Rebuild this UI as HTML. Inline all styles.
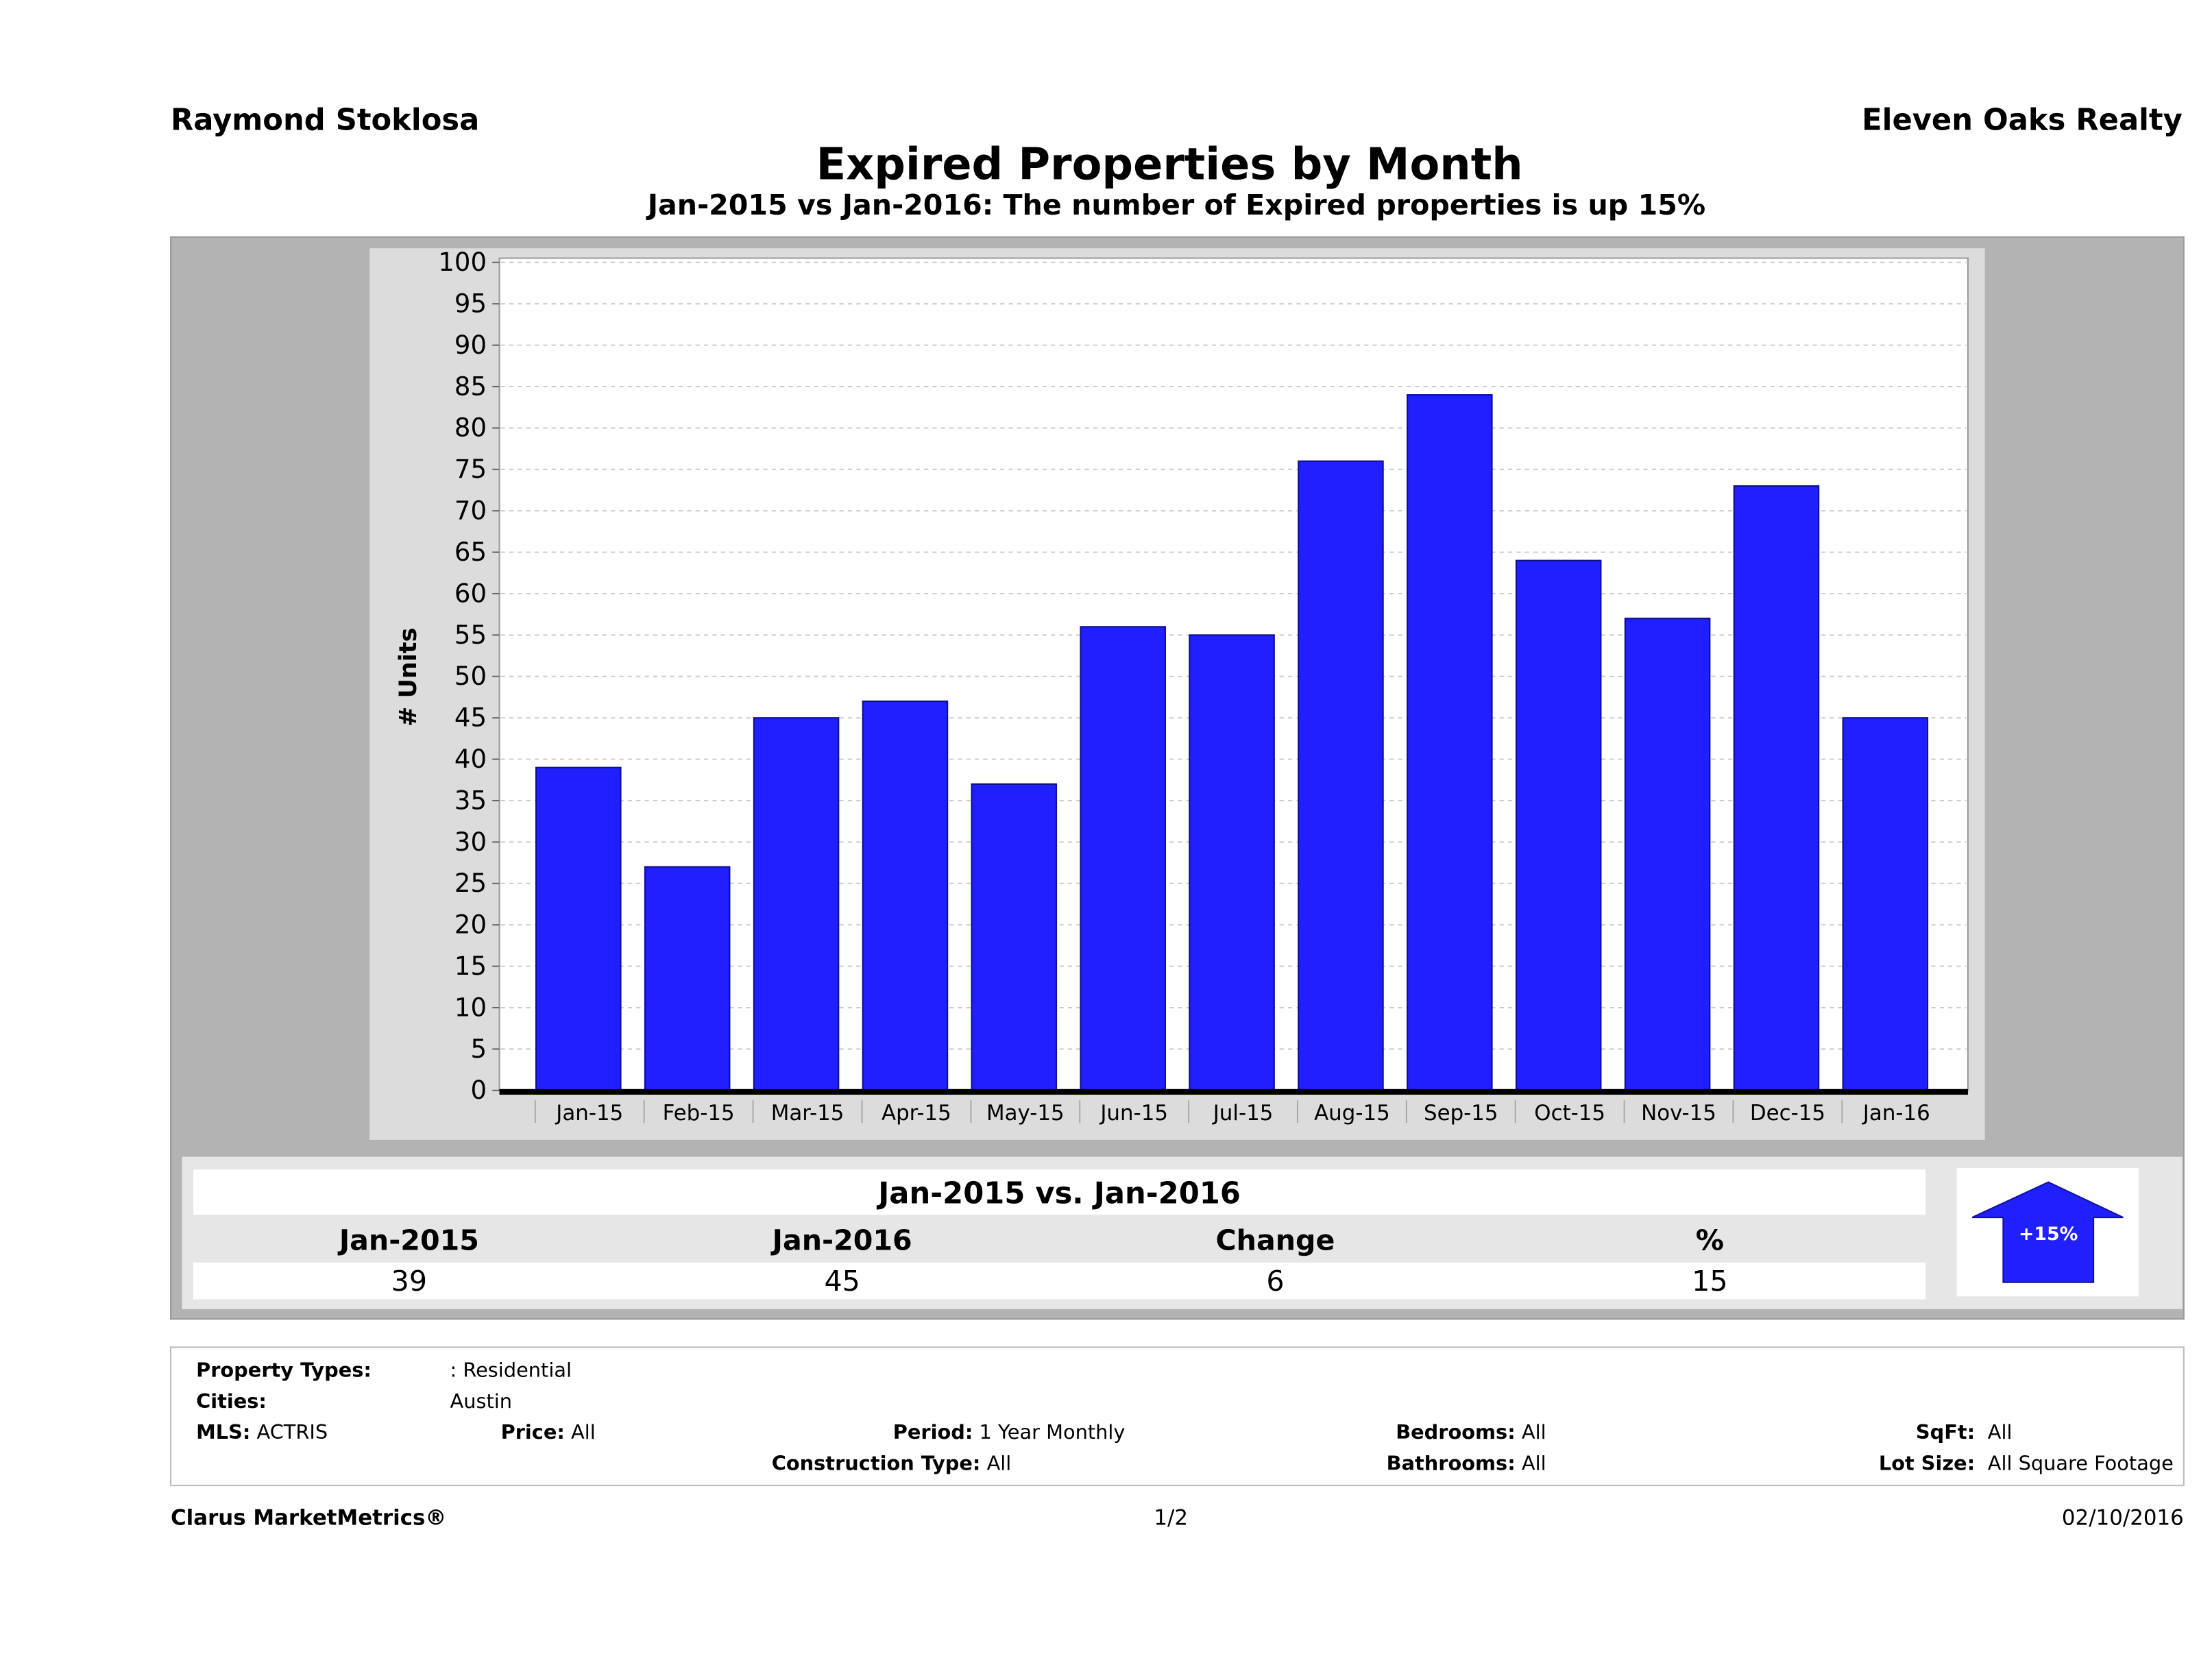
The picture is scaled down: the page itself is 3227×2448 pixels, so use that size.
<!DOCTYPE html>
<html><head><meta charset="utf-8"><style>
html,body{margin:0;padding:0;background:#fff}
svg{display:block}
text{font-family:"DejaVu Sans","Liberation Sans",sans-serif}
</style></head><body>
<svg id="s" width="3227" height="2448" viewBox="0 0 1568 1189.5" xmlns="http://www.w3.org/2000/svg">
<text x="121" y="92" font-size="21" font-weight="bold">Raymond Stoklosa</text>
<text x="1547" y="92" font-size="21" font-weight="bold" text-anchor="end">Eleven Oaks Realty</text>
<text x="829" y="127" font-size="31" font-weight="bold" text-anchor="middle">Expired Properties by Month</text>
<text x="834" y="152" font-size="20" font-weight="bold" text-anchor="middle">Jan-2015 vs Jan-2016: The number of Expired  properties is up 15%</text>
<rect x="121" y="168" width="1427" height="767" fill="#b3b3b3" stroke="#999"/>
<rect x="262" y="176" width="1145" height="632" fill="#dcdcdc"/>
<rect x="354" y="183" width="1041" height="590" fill="#fff" stroke="#999"/>
<g id="grid"></g><g id="bars"></g><g id="yt"></g><g id="xt"></g>
<text transform="translate(295,480) rotate(-90)" font-size="17" font-weight="bold" text-anchor="middle"># Units</text>
<rect x="354" y="772" width="1041" height="4" fill="#000"/>
<rect x="129" y="820" width="1418" height="108" fill="#e6e6e6"/>
<rect x="137" y="829" width="1228" height="32" fill="#fff"/>
<rect x="137" y="895" width="1228" height="26" fill="#fff"/>
<text x="751" y="853" font-size="21" font-weight="bold" text-anchor="middle">Jan-2015 vs. Jan-2016</text>
<g font-size="20" text-anchor="middle">
<text x="290" y="886" font-weight="bold">Jan-2015</text>
<text x="597" y="886" font-weight="bold">Jan-2016</text>
<text x="904" y="886" font-weight="bold">Change</text>
<text x="1212" y="886" font-weight="bold">%</text>
<text x="290" y="915">39</text>
<text x="597" y="915">45</text>
<text x="904" y="915">6</text>
<text x="1212" y="915">15</text>
</g>
<rect x="1387" y="828" width="129" height="91" fill="#fff"/>
<polygon points="1452,838 1505,863 1484,863 1484,909 1420,909 1420,863 1398,863" fill="#2020ff" stroke="#1010a0"/>
<text x="1452" y="879" font-size="13" font-weight="bold" fill="#fff" text-anchor="middle">+15%</text>
<rect x="121" y="955" width="1427" height="98" fill="#fff" stroke="#bbb"/>
<g font-size="14">
<text x="139" y="976" font-weight="bold">Property Types:</text>
<text x="319" y="976">: Residential</text>
<text x="139" y="998" font-weight="bold">Cities:</text>
<text x="319" y="998">Austin</text>
<text x="139" y="1020"><tspan font-weight="bold">MLS:</tspan>   ACTRIS</text>
<text x="355" y="1020"><tspan font-weight="bold">Price:</tspan> All</text>
<text x="633" y="1020"><tspan font-weight="bold">Period:</tspan> 1 Year Monthly</text>
<text x="547" y="1042"><tspan font-weight="bold">Construction Type:</tspan> All</text>
<text x="1096" y="1020" text-anchor="end"><tspan font-weight="bold">Bedrooms:</tspan> All</text>
<text x="1096" y="1042" text-anchor="end"><tspan font-weight="bold">Bathrooms:</tspan> All</text>
<text x="1400" y="1020" text-anchor="end" font-weight="bold">SqFt:</text>
<text x="1409" y="1020">All</text>
<text x="1400" y="1042" text-anchor="end" font-weight="bold">Lot Size:</text>
<text x="1409" y="1042">All Square Footage</text>
</g>
<text x="121" y="1081" font-size="15" font-weight="bold">Clarus MarketMetrics®</text>
<text x="830" y="1081" font-size="15" text-anchor="middle">1/2</text>
<text x="1548" y="1081" font-size="15" text-anchor="end">02/10/2016</text>
</svg>
<script>
const categories=["Jan-15","Feb-15","Mar-15","Apr-15","May-15","Jun-15","Jul-15","Aug-15","Sep-15","Oct-15","Nov-15","Dec-15","Jan-16"];
const values=[39,27,45,47,37,56,55,76,84,64,57,73,45];
const yTicks=[0,5,10,15,20,25,30,35,40,45,50,55,60,65,70,75,80,85,90,95,100];
const NS="http://www.w3.org/2000/svg";
const y0=773,y1=186,yMax=100;
function yS(v){return y0-(v/yMax)*(y0-y1);}
const step=77.2,x0=410;
function xS(i){return x0+i*step;}
function mk(t,a,p){const e=document.createElementNS(NS,t);for(const k in a)e.setAttribute(k,a[k]);p.appendChild(e);return e;}
const g=document.getElementById('grid'),b=document.getElementById('bars'),yt=document.getElementById('yt'),xt=document.getElementById('xt');
yTicks.forEach(v=>{
 const y=yS(v);
 const l=mk('line',{x1:355,x2:1394,y1:y,y2:y,stroke:'#ccc','stroke-dasharray':'3,3'},g);
 
 
 const tk=mk('line',{x1:349,x2:354,y1:y,y2:y,stroke:'#666'},yt);
 
 
 const t=mk('text',{x:345,y:y+6,'font-size':18,'text-anchor':'end'},yt);
 t.textContent=v;
 
 
});
categories.forEach((c,i)=>{
 const cx=xS(i),w=60;
 const r=mk('rect',{x:cx-w/2,y:yS(values[i]),width:w,height:y0-yS(values[i]),fill:'#1f1fff',stroke:'#0d0d90','stroke-width':1},b);
 
 
 const t=mk('text',{x:cx+8,y:794,'font-size':15,'text-anchor':'middle'},xt);
 t.textContent=c;
 
 
 const s=mk('line',{x1:cx-step/2+8,x2:cx-step/2+8,y1:780,y2:796,stroke:'#aaa'},xt);
 
 
});
</script>
</body></html>
